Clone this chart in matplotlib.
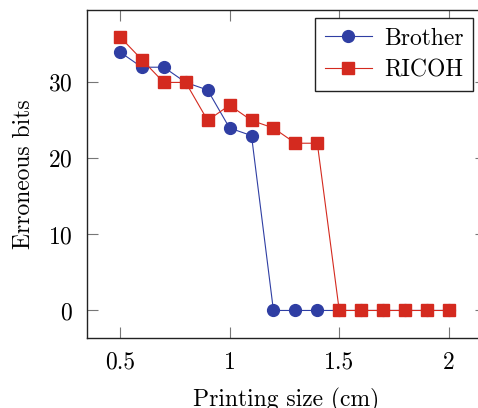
import matplotlib
matplotlib.use("Agg")
import matplotlib.pyplot as plt

# data
sizes = [0.5, 0.6, 0.7, 0.8, 0.9, 1.0, 1.1, 1.2, 1.3, 1.4, 1.5, 1.6, 1.7, 1.8, 1.9, 2.0]
brother = [34, 32, 32, 30, 29, 24, 23, 0, 0, 0, 0, 0, 0, 0, 0, 0]
ricoh = [36, 33, 30, 30, 25, 27, 25, 24, 22, 22, 0, 0, 0, 0, 0, 0]
xticks = [0.5, 1, 1.5, 2]
xticklabels = ["0.5", "1", "1.5", "2"]
yticks = [0, 10, 20, 30]

plt.rcParams["font.family"] = ["cmr10", "DejaVu Serif"]
plt.rcParams["axes.formatter.use_mathtext"] = True
plt.rcParams["font.size"] = 17

fig = plt.figure(figsize=(4.78, 4.08), dpi=100)
# right spine sits just past the image edge, as in the reference
ax = fig.add_axes([0.182, 0.172, 0.8347, 0.803])

ax.plot(sizes, brother, color="#2f3ea3", lw=0.8, marker="o", ms=8.5,
        label="Brother")
ax.plot(sizes, ricoh, color="#d42a1f", lw=0.8, marker="s", ms=8,
        label="RICOH")

ax.set_xlim(0.35, 2.169)
ax.set_ylim(-3.6, 39.5)
ax.set_xticks(xticks)
ax.set_xticklabels(xticklabels)
ax.set_yticks(yticks)
ax.tick_params(direction="in", length=8, width=0.8, color="#777777",
               top=True, right=True, pad=10)
for s in ax.spines.values():
    s.set_linewidth(1.0)
    s.set_color("#222222")

ax.set_xlabel("Printing size (cm)", labelpad=10)
ax.set_ylabel("Erroneous bits", labelpad=10)

leg = ax.legend(loc="upper right", bbox_to_anchor=(0.967, 0.976),
                fancybox=False, framealpha=1, edgecolor="#222222",
                handlelength=2.0, borderpad=0.4, labelspacing=0.4,
                handletextpad=0.5, borderaxespad=0.0, fontsize=17)
leg.get_frame().set_linewidth(1.0)

fig.savefig("out.png", dpi=100)
